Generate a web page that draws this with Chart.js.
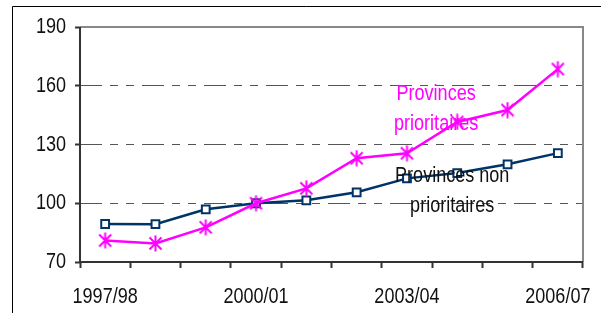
<!DOCTYPE html>
<html>
<head>
<meta charset="utf-8">
<style>
  html, body { margin: 0; padding: 0; background: #fff; }
  #wrap { width: 601px; height: 313px; position: relative; }
</style>
<script src="https://cdn.jsdelivr.net/npm/chart.js@4/dist/chart.umd.min.js"></script>
</head>
<body>
<div id="wrap"><canvas id="chart" width="601" height="313"></canvas></div>
<script>
const years = ["1997/98", "1998/99", "1999/00", "2000/01", "2001/02", "2002/03", "2003/04", "2004/05", "2005/06", "2006/07"];
const prioritaires = [81, 79.5, 87.7, 100, 107.6, 123, 125.5, 141.5, 147.6, 168.5];
const nonPrioritaires = [89.4, 89.3, 96.9, 100, 101.5, 105.6, 112.7, 115.4, 119.9, 125.6];
const yTicks = [70, 100, 130, 160, 190];

const FONT = "'Liberation Sans', Arial, sans-serif";
const NAVY = "#003366";
const MAGENTA = "#ff00ff";
const NARROW = 0.82; // no Arial Narrow installed, squeeze Liberation Sans instead

const canvas = document.getElementById("chart");
const c2d = canvas.getContext("2d");
const rawFill = c2d.fillText;
const rawMeasure = c2d.measureText;
c2d.fillText = function (text, x, y) {
  this.save();
  this.translate(x, y);
  this.scale(NARROW, 1);
  rawFill.call(this, text, 0, 0);
  this.restore();
};
c2d.measureText = function (text) {
  const m = rawMeasure.call(this, text);
  return { width: m.width * NARROW, actualBoundingBoxAscent: m.actualBoundingBoxAscent, actualBoundingBoxDescent: m.actualBoundingBoxDescent };
};

// excel style asterisk marker
function asterisk(color) {
  const c = document.createElement("canvas");
  c.width = 17;
  c.height = 17;
  const g = c.getContext("2d");
  g.strokeStyle = color;
  g.lineWidth = 2;
  g.beginPath();
  g.moveTo(2.5, 2.5); g.lineTo(14.5, 14.5);
  g.moveTo(14.5, 2.5); g.lineTo(2.5, 14.5);
  g.moveTo(8.5, 0.5); g.lineTo(8.5, 16.5);
  g.stroke();
  return c;
}

const framePlugin = {
  id: "frame",
  beforeDraw(chart) {
    const ctx = chart.ctx;
    ctx.save();
    ctx.strokeStyle = "#000";
    ctx.lineWidth = 1;
    ctx.beginPath();
    ctx.moveTo(12.5, 313);
    ctx.lineTo(12.5, 6.5);
    ctx.lineTo(601, 6.5);
    ctx.stroke();
    ctx.restore();
  },
  beforeDatasetsDraw(chart) {
    const { ctx, chartArea: a } = chart;
    ctx.save();
    ctx.lineWidth = 2;
    ctx.strokeStyle = "#888";
    ctx.beginPath();
    ctx.moveTo(a.left, a.top);
    ctx.lineTo(a.right, a.top);
    ctx.lineTo(a.right, a.bottom);
    ctx.stroke();
    ctx.strokeStyle = "#333";
    ctx.beginPath();
    ctx.moveTo(a.left, a.top);
    ctx.lineTo(a.left, a.bottom);
    ctx.lineTo(a.right, a.bottom);
    ctx.stroke();
    ctx.restore();
  },
};

const notes = [
  { lines: ["Provinces", "prioritaires"], x: 6.58, y: 156, color: MAGENTA },
  { lines: ["Provinces non", "prioritaires"], x: 6.9, y: 114, color: "#111" },
];

const notesPlugin = {
  id: "notes",
  afterDatasetsDraw(chart) {
    const ctx = chart.ctx;
    const xs = chart.scales.x, ys = chart.scales.y;
    ctx.save();
    ctx.font = "22px " + FONT;
    ctx.textAlign = "center";
    ctx.textBaseline = "middle";
    notes.forEach(n => {
      const px = xs.getPixelForValue(n.x);
      const py = ys.getPixelForValue(n.y);
      ctx.fillStyle = n.color;
      n.lines.forEach((t, i) => ctx.fillText(t, px, py + i * 30));
    });
    ctx.restore();
  },
};

new Chart(canvas, {
  type: "line",
  data: {
    labels: years,
    datasets: [
      {
        label: "Provinces prioritaires",
        data: prioritaires,
        borderColor: MAGENTA,
        borderWidth: 2.5,
        pointStyle: asterisk(MAGENTA),
        tension: 0,
      },
      {
        label: "Provinces non prioritaires",
        data: nonPrioritaires,
        borderColor: NAVY,
        backgroundColor: "#fff",
        borderWidth: 2.5,
        pointStyle: "rect",
        pointRadius: 5.5,
        pointBorderWidth: 2,
        pointBackgroundColor: "#fff",
        tension: 0,
      },
    ],
  },
  plugins: [framePlugin, notesPlugin],
  options: {
    responsive: false,
    animation: false,
    layout: { padding: { left: 12, right: 18, top: 27, bottom: 0 } },
    plugins: {
      legend: { display: false },
      tooltip: { enabled: false },
    },
    scales: {
      x: {
        offset: true,
        border: { display: false },
        grid: {
          offset: true,
          drawOnChartArea: false,
          tickLength: 6,
          tickColor: "#333",
          tickWidth: 2,
        },
        ticks: {
          autoSkip: false,
          maxRotation: 0,
          padding: 16,
          color: "#111",
          font: { family: FONT, size: 22 },
          callback: (v, i) => (i % 3 === 0 ? years[i] : ""),
        },
        afterFit: s => {
          s.height = 51;
          s.paddingLeft = 0;
          s.paddingRight = 0;
        },
      },
      y: {
        min: 70,
        max: 190,
        border: { display: false, dash: [22, 8, 8, 8, 8, 8] },
        grid: {
          color: c => (c.tick.value === 70 || c.tick.value === 190 ? "rgba(0,0,0,0)" : "#555"),
          lineWidth: 1,
          tickLength: 5,
          tickColor: "#333",
          tickWidth: 2,
        },
        afterBuildTicks: s => { s.ticks = yTicks.map(v => ({ value: v })); },
        ticks: {
          padding: 9,
          color: "#111",
          font: { family: FONT, size: 22 },
        },
        afterFit: s => { s.width = 68; },
      },
    },
  },
});
</script>
</body>
</html>
